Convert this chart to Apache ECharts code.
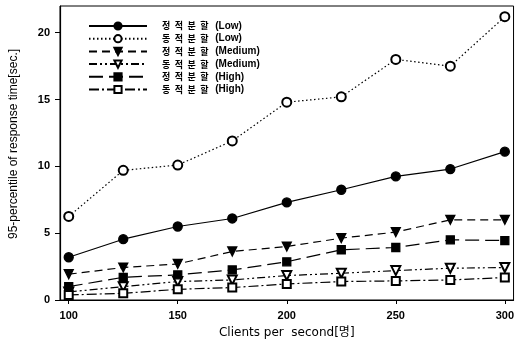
<!DOCTYPE html>
<html><head><meta charset="utf-8">
<script src="https://cdn.jsdelivr.net/npm/echarts@6/dist/echarts.min.js"></script>
<style>html,body{margin:0;padding:0;background:#fff}#c{width:517px;height:349px}</style>
</head><body><div id="c"></div>
<script>
const clients = [100,125,150,175,200,225,250,275,300];
const staticLow = [3.2,4.55,5.5,6.1,7.3,8.25,9.25,9.8,11.1];
const dynamicLow = [6.25,9.7,10.1,11.9,14.8,15.2,18.0,17.5,21.2];
const staticMedium = [1.93,2.43,2.7,3.63,4.0,4.63,5.08,6.0,6.0];
const dynamicMedium = [0.6,1.0,1.38,1.5,1.83,2.0,2.2,2.38,2.43];
const staticHigh = [1.0,1.7,1.88,2.25,2.86,3.76,3.93,4.5,4.45];
const dynamicHigh = [0.38,0.5,0.8,0.93,1.2,1.38,1.43,1.5,1.68];
const names = ['정 적 분 할 (Low)','동 적 분 할 (Low)','정 적 분 할 (Medium)','동 적 분 할 (Medium)','정 적 분 할 (High)','동 적 분 할 (High)'];
const yTitle = '95-percentile of response time[sec.]';
const xTitle = 'Clients per  second[명]';
const yTicks = [0,5,10,15,20];
const xTicks = [100,150,200,250,300];

const pair = arr => clients.map((c,i)=>[c,arr[i]]);
const mk = (name, arr, symbol, rot, dash, size) => ({
  name, type:'line', data: pair(arr), symbol, symbolSize: size, symbolRotate: rot,
  lineStyle:{color:'#000', width:1.2, type: dash},
  itemStyle:{color:'#000', borderColor:'#000', borderWidth:1.3},
  emphasis:{disabled:true}, animation:false
});
const series = [
  mk(names[0], staticLow, 'circle', 0, 'solid', 9),
  mk(names[1], dynamicLow, 'emptyCircle', 0, [1.5,2.5], 9),
  mk(names[2], staticMedium, 'triangle', 180, [8,5], 9),
  mk(names[3], dynamicMedium, 'emptyTriangle', 180, [8,3,2,3,2,3], 9),
  mk(names[4], staticHigh, 'rect', 0, [14,6], 8),
  mk(names[5], dynamicHigh, 'emptyRect', 0, [10,3,2,3], 8)
];

const chart = echarts.init(document.getElementById('c'), null, {renderer:'canvas'});
chart.setOption({
  backgroundColor:'#fff',
  animation:false,
  grid:{left:60, right:3, top:6, bottom:49, show:true, borderColor:'#000', borderWidth:1},
  legend:{
    orient:'vertical', left:88, top:20, padding:0, itemWidth:58, itemHeight:9, itemGap:0.7,
    formatter: n => { const i = n.indexOf('('); return '{k|' + n.slice(0,i).trim().split(' ').join('\u2002') + '}  {e|' + n.slice(i) + '}'; },
    textStyle:{
      padding:[0,0,0,10], lineHeight:10,
      rich:{
        k:{fontFamily:'"Noto Sans CJK KR", sans-serif', fontSize:9, fontWeight:'bold', color:'#000', lineHeight:10},
        e:{fontFamily:'"Liberation Sans", Arial, sans-serif', fontSize:10, fontWeight:'bold', color:'#000', lineHeight:10}
      }
    },
    data: names
  },
  graphic:[{
    type:'text', x:14, y:144, rotation:Math.PI/2,
    style:{text:yTitle, fill:'#000', font:'12px "Liberation Sans", Arial, sans-serif', textAlign:'center', textVerticalAlign:'middle'}
  }],
  xAxis:{
    type:'value', min:96, max:304, interval:50,
    name:xTitle, nameLocation:'middle', nameGap:27,
    nameTextStyle:{fontFamily:'"DejaVu Sans", "Noto Sans CJK KR", sans-serif', fontSize:12, color:'#000'},
    axisLine:{lineStyle:{color:'#000', width:1.2}},
    axisTick:{show:true, length:4, lineStyle:{color:'#000'}, customValues:xTicks},
    axisLabel:{fontFamily:'"Liberation Sans", Arial, sans-serif', fontSize:11, fontWeight:'bold', color:'#000', margin:10, customValues:xTicks},
    splitLine:{show:false}
  },
  yAxis:{
    type:'value', min:0, max:22, interval:5,
    axisLine:{show:true, lineStyle:{color:'#000', width:1.2}},
    axisTick:{show:true, length:5, lineStyle:{color:'#000'}, customValues:yTicks},
    axisLabel:{fontFamily:'"Liberation Sans", Arial, sans-serif', fontSize:11, fontWeight:'bold', color:'#000', margin:10, customValues:yTicks},
    splitLine:{show:false}
  },
  series
});
</script></body></html>
